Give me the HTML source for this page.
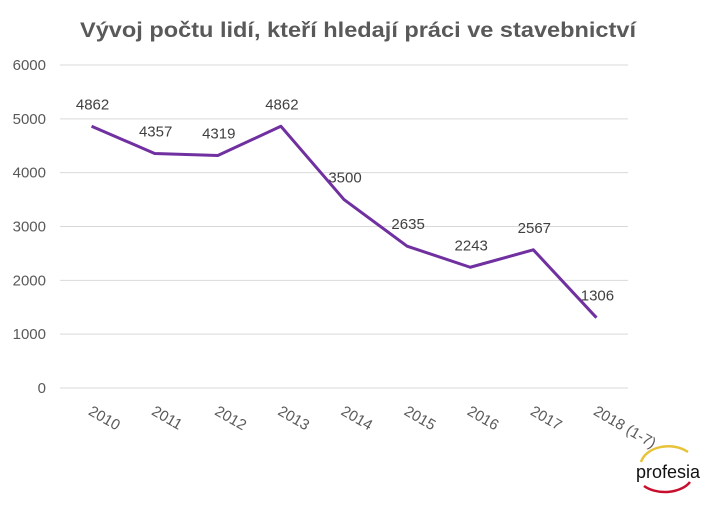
<!DOCTYPE html>
<html><head><meta charset="utf-8"><style>
body{margin:0;background:#fff;width:713px;height:504px;overflow:hidden;font-family:"Liberation Sans",sans-serif}
</style></head><body>
<svg id="c" width="713" height="504" xmlns="http://www.w3.org/2000/svg">
<text x="358" y="37" text-anchor="middle" font-size="21" font-weight="bold" fill="#595959" textLength="556" lengthAdjust="spacingAndGlyphs">Vývoj počtu lidí, kteří hledají práci ve stavebnictví</text>
<g id="grid"></g><g id="yt"></g><g id="xt"></g><g id="ln"></g><g id="lb"></g>
<g>
<path d="M641 462 A28 20 0 0 1 688 452" fill="none" stroke="#e8c33a" stroke-width="2.5"/>
<path d="M644 486 A28 18 0 0 0 690 482" fill="none" stroke="#c8102e" stroke-width="2.5"/>
<text x="668" y="478" text-anchor="middle" font-size="18" fill="#111">profesia</text>
</g>
</svg>
<script>
const categories=["2010","2011","2012","2013","2014","2015","2016","2017","2018 (1-7)"];
const values=[4862,4357,4319,4862,3500,2635,2243,2567,1306];
const yTicks=[0,1000,2000,3000,4000,5000,6000];
const NS="http://www.w3.org/2000/svg";
const L=60,R=628,T=65,B=388,YMAX=6000;
const band=(R-L)/categories.length;
const x=i=>L+band*(i+0.5);
const y=v=>B-(v/YMAX)*(B-T);
function mk(t,a,p){const e=document.createElementNS(NS,t);for(const k in a)e.setAttribute(k,a[k]);p.appendChild(e);return e;}
const g=document.getElementById('grid'),yt=document.getElementById('yt'),xt=document.getElementById('xt'),ln=document.getElementById('ln'),lb=document.getElementById('lb');
yTicks.forEach(v=>{
const l=mk('line',{x1:L,x2:R,y1:y(v),y2:y(v),stroke:'#d9d9d9','stroke-width':1},g);


const t=mk('text',{x:46,y:y(v)+5,'text-anchor':'end','font-size':15,fill:'#595959'},yt);
t.textContent=v;


});
categories.forEach((c,i)=>{
const cx=x(i)-4,cy=414;
const t=mk('text',{x:cx,y:cy,'font-size':15,fill:'#595959',transform:`rotate(30 ${cx} ${cy})`},xt);
t.textContent=c;


});
const p=mk('polyline',{points:values.map((v,i)=>x(i)+','+y(v)).join(' '),fill:'none',stroke:'#7030a0','stroke-width':3,'stroke-linejoin':'round'},ln);


values.forEach((v,i)=>{
const t=mk('text',{x:x(i)+1,y:y(v)-17,'text-anchor':'middle','font-size':15,fill:'#404040'},lb);
t.textContent=v;


});
</script>
</body></html>
